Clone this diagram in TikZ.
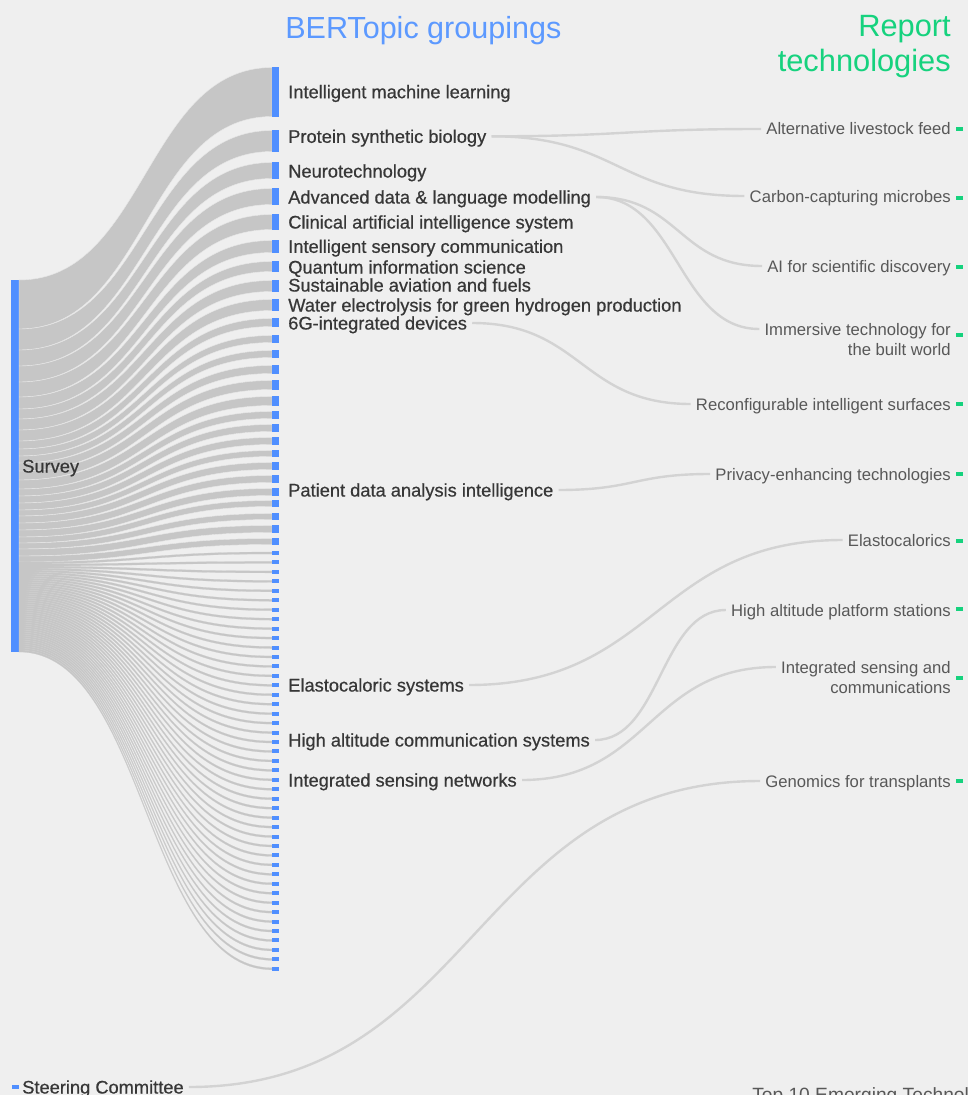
\documentclass[tikz,border=0pt]{standalone}
\usepackage{fontspec}
\setmainfont{Liberation Sans}
\newfontfamily\topicfont{Liberation Sans}[FakeBold=0.6]
\usetikzlibrary{calc}
\definecolor{bg}{RGB}{239,239,239}
\definecolor{bandgray}{RGB}{198,198,198}
\definecolor{bandedge}{RGB}{232,232,232}
\definecolor{barblue}{RGB}{80,143,255}
\definecolor{titleblue}{RGB}{92,153,255}
\definecolor{techgreen}{RGB}{22,210,126}
\definecolor{linkgray}{RGB}{211,211,211}
\definecolor{ink}{RGB}{55,55,55}
\definecolor{softink}{RGB}{88,88,88}
\def\band[#1](#2:#3:#4){\fill[bandgray, #1] (19,#2) .. controls (145.5,#2) and (145.5,#3) .. (272,#3) -- (272,#3+#4) .. controls (145.5,#3+#4) and (145.5,#2+#4) .. (19,#2+#4) -- cycle;}
\tikzset{
  topic/.style={anchor=west, inner xsep=3.75pt, inner ysep=1pt, text=ink,
    font=\topicfont\fontsize{13.7pt}{16pt}\selectfont, text height=9.8pt, text depth=0pt},
  tech/.style={anchor=east, inner xsep=3.75pt, inner ysep=1pt, text=softink,
    font=\fontsize{12.5pt}{15pt}\selectfont, text height=9pt, text depth=0pt},
  techtwo/.style={anchor=north east, align=right, inner xsep=3.75pt, inner ysep=0pt, text=softink,
    font=\fontsize{12.5pt}{15pt}\selectfont},
  flow/.style={draw=linkgray, line width=1.8pt,
    to path={let \p1=(\tikztostart), \p2=(\tikztotarget) in
      .. controls ({0.5*\x1+0.5*\x2},\y1) and ({0.5*\x1+0.5*\x2},\y2) .. (\tikztotarget)}}
}
\begin{document}
\begin{tikzpicture}[x=0.75pt, y=-0.75pt]
	%%%%% START %%%%%
	\useasboundingbox (0,0) rectangle (968,1095);
	\fill[bg] (0,0) rectangle (968,1095);
	
	% survey and committee
	\fill[barblue] (11,280) rectangle (19,652);
	\fill[barblue] (12,1085) rectangle (19,1089);
	
	% bands into the bigger groupings
	\xdef\sy{280}
	\foreach \ty/\hh in {67/50,130/22,162/17,188/17,214/16,240/13,261/11,280/12,299/12,318/9,
		335/8,350/8,365/9,380/10,396/10,411/8,424/8,437/8,450/7,462/8,475/8,488/8,500/7,513/7,525/8,538/7}{
		\pgfmathsetmacro\bw{\hh-1}
		\band[draw=bandedge, line width=0.3pt](\sy:\ty+0.5:\bw)
		\fill[barblue] (272,\ty) rectangle (279,\ty+\hh);
		\pgfmathsetmacro\nsy{\sy+\bw}\xdef\sy{\nsy}
	}
	% the small ones
	\foreach \i in {0,...,44}{
		\pgfmathsetmacro\ty{551+9.45*\i}
		\band[draw=bandgray!85!bg, line width=0.15pt](\sy:\ty+1:2)
		\fill[barblue] (272,\ty) rectangle (279,\ty+4);
		\pgfmathsetmacro\nsy{\sy+2}\xdef\sy{\nsy}
	}
	
	% titles
	\node[anchor=west, inner sep=0pt, text=titleblue, font=\fontsize{22.9pt}{26pt}\selectfont,
		text height=16.4pt, text depth=0pt] (bert) at (285,27.5) {BERTopic groupings};
	\node[anchor=north east, align=right, inner sep=0pt, text=techgreen,
		font=\fontsize{23.1pt}{26.25pt}\selectfont] (rep) at (951,15) {Report\\technologies};
	
	% left labels
	\node[topic] (sur) at (17,466) {Survey};
	\node[topic] (stc) at (17,1087) {Steering Committee};
	
	% grouping labels
	\node[topic] (iml) at (283,91.7) {Intelligent machine learning};
	\node[topic] (psb) at (283,136.3) {Protein synthetic biology};
	\node[topic] (neu) at (283,171) {Neurotechnology};
	\node[topic] (adl) at (283,197) {Advanced data \& language modelling};
	\node[topic] (cai) at (283,222) {Clinical artificial intelligence system};
	\node[topic] (isc) at (283,246.3) {Intelligent sensory communication};
	\node[topic] (qis) at (283,267) {Quantum information science};
	\node[topic] (saf) at (283,285) {Sustainable aviation and fuels};
	\node[topic] (weh) at (283,305) {Water electrolysis for green hydrogen production};
	\node[topic] (sixg) at (283,323) {6G-integrated devices};
	\node[topic] (pda) at (283,490) {Patient data analysis intelligence};
	\node[topic] (ecs) at (283,685) {Elastocaloric systems};
	\node[topic] (hac) at (283,740) {High altitude communication systems};
	\node[topic] (isn) at (283,780) {Integrated sensing networks};
	
	% report technologies
	\foreach \gy in {129,198,267,335,404,474,541,609,678,781}
		\fill[techgreen] (956,\gy-2) rectangle (963,\gy+2);
	\node[tech] (alf) at (956,129) {Alternative livestock feed};
	\node[tech] (ccm) at (956,196) {Carbon-capturing microbes};
	\node[tech] (asd) at (956,266) {AI for scientific discovery};
	\node[techtwo] (itb) at (956,323) {Immersive technology for\\the built world};
	\node[tech] (ris) at (956,404) {Reconfigurable intelligent surfaces};
	\node[tech] (pet) at (956,474) {Privacy-enhancing technologies};
	\node[tech] (ela) at (956,540) {Elastocalorics};
	\node[tech] (hap) at (956,610) {High altitude platform stations};
	\node[techtwo] (isac) at (956,661) {Integrated sensing and\\communications};
	\node[tech] (gft) at (956,781) {Genomics for transplants};
	\coordinate (itbin) at ($(itb.north west)+(0,6)$);
	\coordinate (isacin) at ($(isac.north west)+(0,6)$);
	
	% links
	\draw[flow] (psb.east) to (alf.west);
	\draw[flow] (psb.east) to (ccm.west);
	\draw[flow] (adl.east) to (asd.west);
	\draw[flow] (adl.east) to (itbin);
	\draw[flow] (sixg.east) to (ris.west);
	\draw[flow] (pda.east) to (pet.west);
	\draw[flow] (ecs.east) to (ela.west);
	\draw[flow] (hac.east) to (hap.west);
	\draw[flow] (isn.east) to (isacin);
	\draw[flow] (stc.east) to (gft.west);
	
	\node[anchor=base west, inner sep=0pt, text=softink, font=\fontsize{14.4pt}{16pt}\selectfont] (ten) at (752,1101.5) {Top 10 Emerging Technologies};
	%%%%% END %%%%%
\end{tikzpicture}
\end{document}
